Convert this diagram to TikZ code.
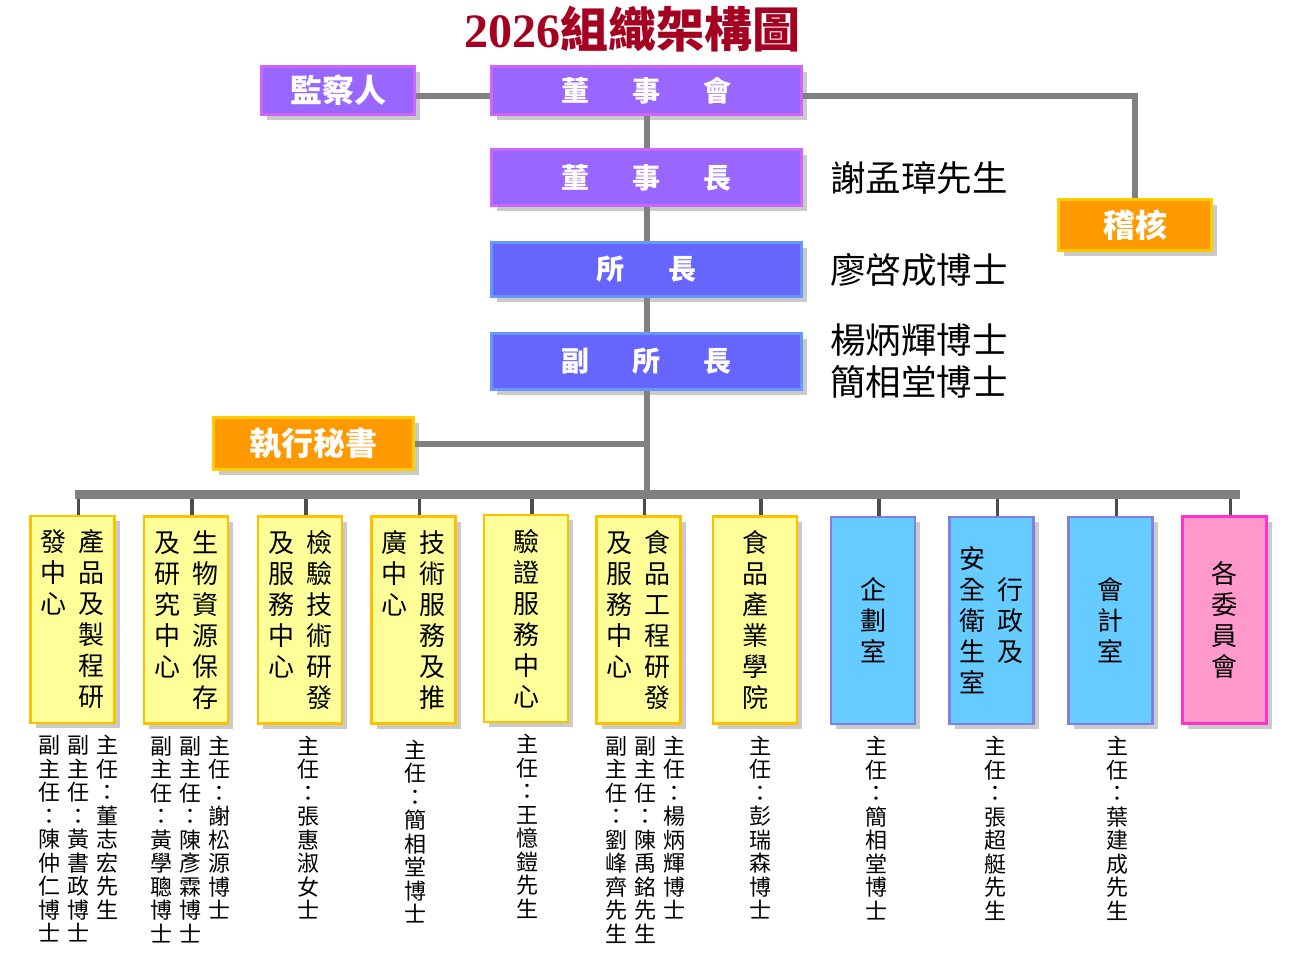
\documentclass[tikz,border=0pt]{standalone}
\usepackage{fontspec}
\setmainfont{Liberation Serif}
\newfontfamily\cjk{Noto Sans CJK TC}
\usetikzlibrary{shadows}
\definecolor{cPU}{HTML}{9966FF}
\definecolor{cPUe}{HTML}{CC66FF}
\definecolor{cBL}{HTML}{6666FF}
\definecolor{cBLe}{HTML}{6699FF}
\definecolor{cOR}{HTML}{FF9900}
\definecolor{cORe}{HTML}{FFCC00}
\definecolor{cYE}{HTML}{FFFF99}
\definecolor{cYEe}{HTML}{FFC000}
\definecolor{cSK}{HTML}{66CCFF}
\definecolor{cSKe}{HTML}{8080E0}
\definecolor{cPK}{HTML}{FF99CC}
\definecolor{cPKe}{HTML}{FF33CC}
\definecolor{cTI}{HTML}{A50021}
% vertical text: one character per row
\def\vcharsEnd{}
\def\vchars#1{\vcharsA#1\vcharsEnd}
\def\vcharsA#1{\ifx#1\vcharsEnd\else\hbox{#1}\expandafter\vcharsA\fi}
\newcommand\vcol[1]{\vtop{\lineskiplimit=-\maxdimen\vchars{#1}}}
\newcommand\vcolc[1]{$\vcenter{\lineskiplimit=-\maxdimen\vchars{#1}}$}
\tikzset{
    BX/.style ={rectangle, line width=2.5pt, inner sep=0pt, drop shadow={shadow xshift=5pt, shadow yshift=-5pt, fill=black!60, opacity=0.35}},
    PU/.style ={BX, fill=cPU, draw=cPUe, text=white, minimum width=310pt, minimum height=56pt, font=\cjk\bfseries\fontsize{28}{34}\selectfont},
    BL/.style ={PU, fill=cBL, draw=cBLe},
    OR/.style ={BX, fill=cOR, draw=cORe, text=white, minimum width=153pt, minimum height=51pt, font=\cjk\bfseries\fontsize{32}{38}\selectfont},
    UN/.style ={BX, minimum width=84pt, minimum height=207pt, font=\cjk\fontsize{26}{31}\selectfont},
    YE/.style ={UN, fill=cYE, draw=cYEe},
    SK/.style ={UN, fill=cSK, draw=cSKe},
    PK/.style ={UN, fill=cPK, draw=cPKe},
    NM/.style ={inner sep=0pt, anchor=north, font=\cjk\fontsize{22}{23.5}\selectfont},
    PN/.style ={inner sep=0pt, anchor=west, align=left, font=\cjk\fontsize{35.5}{42}\selectfont},
    LN/.style ={line width=6pt, draw=gray},
    BUS/.style ={line width=9pt, draw=gray},
    DR/.style ={line width=3.5pt, draw=black!70}}

\begin{document}
\begin{tikzpicture}[x=1pt, y=-1pt]
        \useasboundingbox (0,0) rectangle (1297,961);
        \node[text=cTI, font=\bfseries\fontsize{48}{54}\selectfont] (title) at (632,29) {2026{\cjk 組織架構圖}};
        \node[PU, minimum width=153pt, minimum height=48pt, font=\cjk\bfseries\fontsize{32}{38}\selectfont] (jcr) at (338,90.5) {監察人};
        \node[PU, minimum height=48pt] (dsh) at (646.5,90.5) {董\hspace{1.55em}事\hspace{1.55em}會};
        \node[PU] (dsz) at (646.5,177.5) {董\hspace{1.55em}事\hspace{1.55em}長};
        \node[BL, minimum height=54pt] (sz) at (646.5,269.5) {所\hspace{1.6em}長};
        \node[BL] (fsz) at (646.5,361.5) {副\hspace{1.55em}所\hspace{1.55em}長};
        \node[OR, minimum width=200pt, minimum height=52pt] (zxms) at (313.5,443.5) {執行秘書};
        \node[OR] (jh) at (1135,225) {稽核};
        \node[PN] (ndsz) at (830,178) {謝孟璋先生};
        \node[PN] (nsz) at (830,270) {廖啓成博士};
        \node[PN] (nfsz) at (830,361) {楊炳輝博士\\簡相堂博士};
        \coordinate (busL) at (75,494.5);
        \coordinate (busR) at (1240,494.5);
        \node[YE] (b1) at (72.5,619.5) {\vcol{發中心}\hskip12pt\vcol{產品及製程研}};
        \node[YE] (b2) at (186,620) {\vcol{及研究中心}\hskip12pt\vcol{生物資源保存}};
        \node[YE] (b3) at (300,620) {\vcol{及服務中心}\hskip12pt\vcol{檢驗技術研發}};
        \node[YE] (b4) at (413.5,620) {\vcol{廣中心}\hskip12pt\vcol{技術服務及推}};
        \node[YE] (b5) at (526,618.5) {\vcol{驗證服務中心}};
        \node[YE] (b6) at (638.5,620) {\vcol{及服務中心}\hskip12pt\vcol{食品工程研發}};
        \node[YE] (b7) at (755,620) {\vcol{食品產業學院}};
        \node[SK] (b8) at (873,620.5) {\vcol{企劃室}};
        \node[SK] (b9) at (991.5,620.5) {\vcolc{安全衛生室}\hskip12pt\vcolc{行政及}};
        \node[SK] (b10) at (1110.5,620.5) {\vcol{會計室}};
        \node[PK] (b11) at (1224.5,620) {\vcol{各委員會}};
        \node[NM] (m1) at ([xshift=6pt,yshift=-11pt]b1.south) {\vcol{副主任：陳仲仁博士}\hskip7pt\vcol{副主任：黃書政博士}\hskip7pt\vcol{主任：董志宏先生}};
        \node[NM] (m2) at ([xshift=4pt,yshift=-11pt]b2.south) {\vcol{副主任：黃學聰博士}\hskip7pt\vcol{副主任：陳彥霖博士}\hskip7pt\vcol{主任：謝松源博士}};
        \node[NM] (m3) at ([xshift=8pt,yshift=-11pt]b3.south) {\vcol{主任：張惠淑女士}};
        \node[NM] (m4) at ([xshift=2pt,yshift=-15pt]b4.south) {\vcol{主任：簡相堂博士}};
        \node[NM] (m5) at ([xshift=1pt,yshift=-11pt]b5.south) {\vcol{主任：王憶鎧先生}};
        \node[NM] (m6) at ([xshift=7pt,yshift=-11pt]b6.south) {\vcol{副主任：劉峰齊先生}\hskip7pt\vcol{副主任：陳禹銘先生}\hskip7pt\vcol{主任：楊炳輝博士}};
        \node[NM] (m7) at ([xshift=5pt,yshift=-11pt]b7.south) {\vcol{主任：彭瑞森博士}};
        \node[NM] (m8) at ([xshift=3pt,yshift=-11pt]b8.south) {\vcol{主任：簡相堂博士}};
        \node[NM] (m9) at ([xshift=4pt,yshift=-11pt]b9.south) {\vcol{主任：張超艇先生}};
        \node[NM] (m10) at ([xshift=7pt,yshift=-11pt]b10.south) {\vcol{主任：葉建成先生}};
        \draw[LN] ([yshift=-5.5pt]jcr.east) -- ([yshift=-5.5pt]dsh.west);
        \draw[LN] ([yshift=-5.5pt]dsh.east) -| (jh.north);
        \draw[LN] (dsh.south) -- (dsz.north);
        \draw[LN] (dsz.south) -- (sz.north);
        \draw[LN] (sz.south) -- (fsz.north);
        \draw[LN] (fsz.south) -- (fsz.south |- busL);
        \draw[LN] (zxms.east) -- (zxms.east -| fsz.south);
        \foreach \i in {1,...,11}
            \draw[DR] ([xshift=6pt]b\i.north) -- ([xshift=6pt]b\i.north |- busL);
        \draw[BUS] (busL) -- (busR);
    \end{tikzpicture}
\end{document}
